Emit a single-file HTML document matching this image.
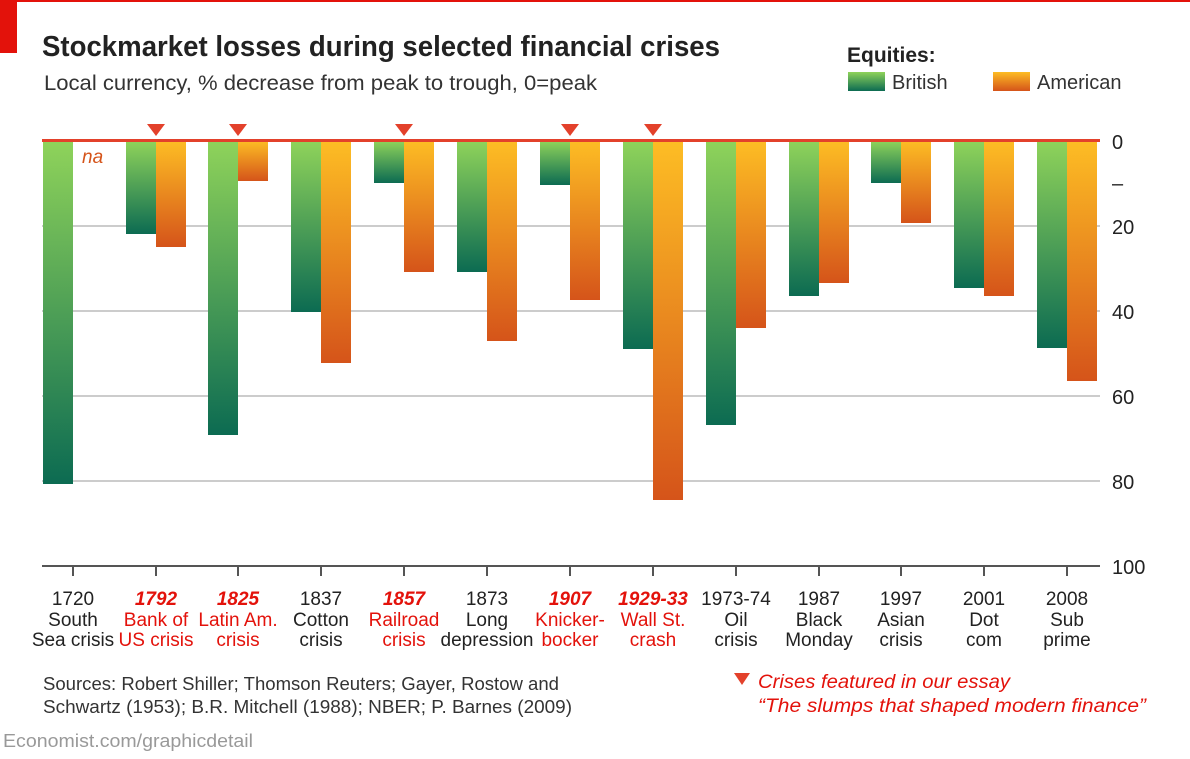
<!DOCTYPE html>
<html><head><meta charset="utf-8"><style>
body{margin:0;background:#fff;width:1190px;height:754px;overflow:hidden;font-family:"Liberation Sans",sans-serif}
</style></head><body>
<svg width="1190" height="754" xmlns="http://www.w3.org/2000/svg" font-family="Liberation Sans, sans-serif">
<defs>
<linearGradient id="g" x1="0" y1="0" x2="0" y2="1"><stop offset="0" stop-color="#8fd35a"/><stop offset="1" stop-color="#0c6b52"/></linearGradient>
<linearGradient id="o" x1="0" y1="0" x2="0" y2="1"><stop offset="0" stop-color="#fdbd24"/><stop offset="1" stop-color="#d5541a"/></linearGradient>
</defs>
<rect x="0" y="0" width="1190" height="2" fill="#e3120b"/>
<rect x="0" y="0" width="17" height="53" fill="#e3120b"/>
<text x="42" y="56" font-size="29" font-weight="bold" fill="#222" textLength="678" lengthAdjust="spacingAndGlyphs">Stockmarket losses during selected financial crises</text>
<text x="44" y="90" font-size="21" fill="#333" textLength="553" lengthAdjust="spacingAndGlyphs">Local currency, % decrease from peak to trough, 0=peak</text>
<text x="847" y="62" font-size="21" font-weight="bold" fill="#222">Equities:</text>
<rect x="848" y="72" width="37" height="19" fill="url(#g)"/>
<text x="892" y="89" font-size="20" fill="#333">British</text>
<rect x="993" y="72" width="37" height="19" fill="url(#o)"/>
<text x="1037" y="89" font-size="20" fill="#333">American</text>
<g stroke="#ccc" stroke-width="2">
<line x1="42" y1="226" x2="1100" y2="226"/><line x1="42" y1="311" x2="1100" y2="311"/>
<line x1="42" y1="396" x2="1100" y2="396"/><line x1="42" y1="481" x2="1100" y2="481"/>
</g>
<g font-size="20" fill="#222">
<text x="1112" y="149">0</text><text x="1112" y="190">–</text><text x="1112" y="234">20</text>
<text x="1112" y="319">40</text><text x="1112" y="404">60</text><text x="1112" y="489">80</text><text x="1112" y="574">100</text>
</g>
<g>
<rect x="43" y="141" width="30" height="343" fill="url(#g)"/>
<rect x="126" y="141" width="30" height="93" fill="url(#g)"/><rect x="156" y="141" width="30" height="106" fill="url(#o)"/>
<rect x="208" y="141" width="30" height="294" fill="url(#g)"/><rect x="238" y="141" width="30" height="40" fill="url(#o)"/>
<rect x="291" y="141" width="30" height="171" fill="url(#g)"/><rect x="321" y="141" width="30" height="222" fill="url(#o)"/>
<rect x="374" y="141" width="30" height="42" fill="url(#g)"/><rect x="404" y="141" width="30" height="131" fill="url(#o)"/>
<rect x="457" y="141" width="30" height="131" fill="url(#g)"/><rect x="487" y="141" width="30" height="200" fill="url(#o)"/>
<rect x="540" y="141" width="30" height="44" fill="url(#g)"/><rect x="570" y="141" width="30" height="159" fill="url(#o)"/>
<rect x="623" y="141" width="30" height="208" fill="url(#g)"/><rect x="653" y="141" width="30" height="359" fill="url(#o)"/>
<rect x="706" y="141" width="30" height="284" fill="url(#g)"/><rect x="736" y="141" width="30" height="187" fill="url(#o)"/>
<rect x="789" y="141" width="30" height="155" fill="url(#g)"/><rect x="819" y="141" width="30" height="142" fill="url(#o)"/>
<rect x="871" y="141" width="30" height="42" fill="url(#g)"/><rect x="901" y="141" width="30" height="82" fill="url(#o)"/>
<rect x="954" y="141" width="30" height="147" fill="url(#g)"/><rect x="984" y="141" width="30" height="155" fill="url(#o)"/>
<rect x="1037" y="141" width="30" height="207" fill="url(#g)"/><rect x="1067" y="141" width="30" height="240" fill="url(#o)"/>
</g>
<text x="82" y="163" font-size="19" font-style="italic" fill="#d5541a">na</text>
<rect x="42" y="139" width="1058" height="3" fill="#e3412b"/>
<g fill="#e3412b">
<polygon points="147,124 165,124 156,136"/><polygon points="229,124 247,124 238,136"/>
<polygon points="395,124 413,124 404,136"/><polygon points="561,124 579,124 570,136"/>
<polygon points="644,124 662,124 653,136"/>
</g>
<line x1="42" y1="566" x2="1100" y2="566" stroke="#555" stroke-width="2"/>
<g stroke="#555" stroke-width="2">
<line x1="73" y1="566" x2="73" y2="576"/><line x1="156" y1="566" x2="156" y2="576"/><line x1="238" y1="566" x2="238" y2="576"/>
<line x1="321" y1="566" x2="321" y2="576"/><line x1="404" y1="566" x2="404" y2="576"/><line x1="487" y1="566" x2="487" y2="576"/>
<line x1="570" y1="566" x2="570" y2="576"/><line x1="653" y1="566" x2="653" y2="576"/><line x1="736" y1="566" x2="736" y2="576"/>
<line x1="819" y1="566" x2="819" y2="576"/><line x1="901" y1="566" x2="901" y2="576"/><line x1="984" y1="566" x2="984" y2="576"/>
<line x1="1067" y1="566" x2="1067" y2="576"/>
</g>
<g font-size="19" text-anchor="middle" fill="#222">
<text x="73" y="605">1720</text><text x="73" y="626">South</text><text x="73" y="646">Sea crisis</text>
<g fill="#e3120b" font-weight="bold" font-style="italic"><text x="156" y="605">1792</text><text x="238" y="605">1825</text><text x="404" y="605">1857</text><text x="570" y="605">1907</text><text x="653" y="605">1929-33</text></g>
<g fill="#e3120b"><text x="156" y="626">Bank of</text><text x="156" y="646">US crisis</text><text x="238" y="626">Latin Am.</text><text x="238" y="646">crisis</text>
<text x="404" y="626">Railroad</text><text x="404" y="646">crisis</text><text x="570" y="626">Knicker-</text><text x="570" y="646">bocker</text>
<text x="653" y="626">Wall St.</text><text x="653" y="646">crash</text></g>
<text x="321" y="605">1837</text><text x="321" y="626">Cotton</text><text x="321" y="646">crisis</text>
<text x="487" y="605">1873</text><text x="487" y="626">Long</text><text x="487" y="646">depression</text>
<text x="736" y="605">1973-74</text><text x="736" y="626">Oil</text><text x="736" y="646">crisis</text>
<text x="819" y="605">1987</text><text x="819" y="626">Black</text><text x="819" y="646">Monday</text>
<text x="901" y="605">1997</text><text x="901" y="626">Asian</text><text x="901" y="646">crisis</text>
<text x="984" y="605">2001</text><text x="984" y="626">Dot</text><text x="984" y="646">com</text>
<text x="1067" y="605">2008</text><text x="1067" y="626">Sub</text><text x="1067" y="646">prime</text>
</g>
<g font-size="18" fill="#333">
<text x="43" y="690" textLength="516" lengthAdjust="spacingAndGlyphs">Sources: Robert Shiller; Thomson Reuters; Gayer, Rostow and</text>
<text x="43" y="713" textLength="529" lengthAdjust="spacingAndGlyphs">Schwartz (1953); B.R. Mitchell (1988); NBER; P. Barnes (2009)</text>
</g>
<text x="3" y="747" font-size="18" fill="#999" textLength="250" lengthAdjust="spacingAndGlyphs">Economist.com/graphicdetail</text>
<polygon points="734,673 750,673 742,685" fill="#e3412b"/>
<g font-size="19" font-style="italic" fill="#e3120b">
<text x="758" y="688" textLength="252" lengthAdjust="spacingAndGlyphs">Crises featured in our essay</text>
<text x="758" y="712" textLength="388" lengthAdjust="spacingAndGlyphs">“The slumps that shaped modern finance”</text>
</g>
</svg>
</body></html>
